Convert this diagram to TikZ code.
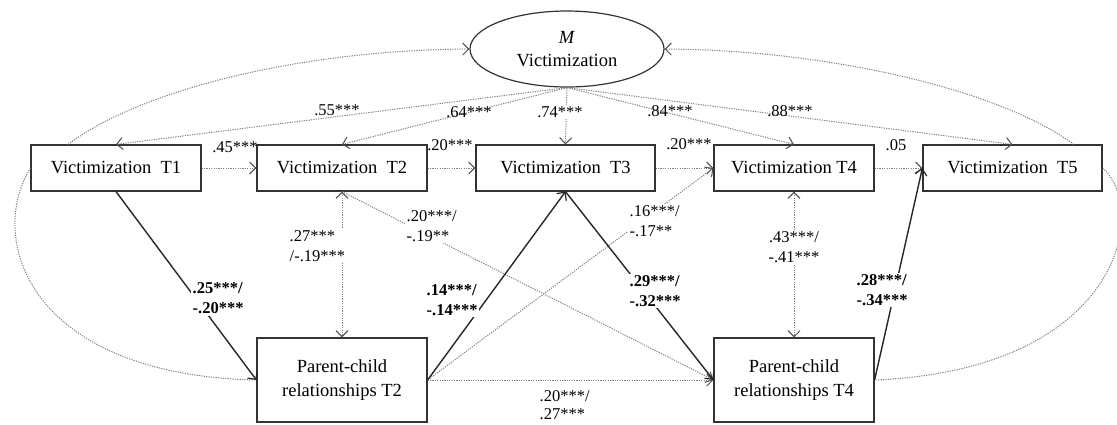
\documentclass[tikz,border=0pt]{standalone}
\usepackage{fontspec}
\setmainfont{Liberation Serif}
\usetikzlibrary{arrows.meta,calc,shapes.geometric}
\begin{document}
\begin{tikzpicture}[x=1pt,y=-1pt,
  box/.style={draw=black!80, line width=1.2pt, minimum height=46pt, inner sep=0pt, fill=white,
    font=\fontsize{18.5}{24}\selectfont},
  pcbox/.style={box, minimum height=84pt, align=center},
  lab/.style={font=\fontsize{16.5}{20}\selectfont, inner sep=1.5pt, align=left},
  blab/.style={lab, font=\fontsize{16.5}{20}\selectfont\bfseries},
  wfill/.style={fill=white},
  dotline/.style={draw=black!50, line width=1pt, dash pattern=on 1.2pt off 1.2pt},
  solidline/.style={draw=black!85, line width=1.4pt},
  tipd/.style={-{Straight Barb[length=6pt,width=12pt,line width=1pt,color=black!70]}},
  tipdd/.style={{Straight Barb[length=6pt,width=12pt,line width=1pt,color=black!70]}-{Straight Barb[length=6pt,width=12pt,line width=1pt,color=black!70]}},
  tips/.style={-{Straight Barb[length=6pt,width=12pt,line width=1.2pt,color=black!85]}}
]
\useasboundingbox (0,0) rectangle (1117,424);

% nodes
\node[draw=black!80, line width=1.2pt, ellipse, minimum width=194pt, minimum height=76pt,
      inner sep=0pt, align=center, font=\fontsize{18.5}{23}\selectfont] (M) at (567,49)
      {\textit{M}\\Victimization};
\node[box, minimum width=170pt] (V1) at (116,168) {Victimization~ T1};
\node[box, minimum width=170pt] (V2) at (342,168) {Victimization~ T2};
\node[box, minimum width=179pt] (V3) at (565.5,168) {Victimization~ T3};
\node[box, minimum width=160pt] (V4) at (794,168) {Victimization T4};
\node[box, minimum width=179pt] (V5) at (1012.5,168) {Victimization~ T5};
\node[pcbox, minimum width=170pt] (P2) at (342,380) {Parent-child\\relationships T2};
\node[pcbox, minimum width=160pt] (P4) at (794,380) {Parent-child\\relationships T4};

% loadings from M
\draw[dotline, tipd] (M.south) -- (V1.north);
\draw[dotline, tipd] (M.south) -- (V2.north);
\draw[dotline, tipd] (M.south) -- (V3.north);
\draw[dotline, tipd] (M.south) -- (V4.north);
\draw[dotline, tipd] (M.south) -- (V5.north);

% autoregressive
\draw[dotline, tipd] (V1.east) -- (V2.west);
\draw[dotline, tipd] (V2.east) -- (V3.west);
\draw[dotline, tipd] (V3.east) -- (V4.west);
\draw[dotline, tipd] (V4.east) -- (V5.west);

% concurrent correlations
\draw[dotline, tipdd] (V2.south) -- (P2.north);
\draw[dotline, tipdd] (V4.south) -- (P4.north);

% dotted cross paths
\draw[dotline, tipd] (V2.south) -- (P4.west);
\draw[dotline, tipd] (P2.east) -- (V4.west);
\draw[dotline, tipd] (P2.east) -- (P4.west);

% curves
\draw[dotline, tipd] ($(V1.north west)!0.22!(V1.north east)$) .. controls (140,90) and (300,50) .. (M.west);
\draw[dotline, tipd] ($(V5.north west)!0.84!(V5.north east)$) .. controls (1000,90) and (830,50) .. (M.east);
\draw[dotline] (V1.west) .. controls (-14,240) and (30,375) .. (P2.west);
\draw[dotline] (V5.east) .. controls (1150,210) and (1120,370) .. (P4.east);

% solid paths
\draw[solidline, tips] (V1.south) -- (P2.west);
\draw[solidline, tips] (P2.east) -- (V3.south);
\draw[solidline, tips] (V3.south) -- (P4.west);
\draw[solidline, tips] (P4.east) -- (V5.west);

% labels
\node[lab] (l55) at (337,110) {.55***};
\node[lab] (l64) at (469,112) {.64***};
\node[lab, wfill] (l74) at (560,112) {.74***};
\node[lab] (l84) at (670,111) {.84***};
\node[lab] (l88) at (790,111) {.88***};
\node[lab] (l45) at (235,147) {.45***};
\node[lab] (l20a) at (450,145) {.20***};
\node[lab] (l20b) at (689,144) {.20***};
\node[lab] (l05) at (896,145) {.05};

\node[lab, wfill, anchor=west] (l27) at (288,246) {.27***\\/-.19***};
\node[lab, wfill, anchor=west] (l2019) at (405,226) {.20***/\\-.19**};
\node[blab, wfill, anchor=west] (l25) at (191,298.5) {.25***/\\-.20***};
\node[blab, wfill, anchor=west] (l14) at (425,300) {.14***/\\-.14***};
\node[lab, wfill, anchor=west] (l16) at (628,221) {.16***/\\-.17**};
\node[blab, wfill, anchor=west] (l29) at (628,291) {.29***/\\-.32***};
\node[lab, wfill, align=center] (l43) at (794,247) {.43***/\\-.41***};
\node[blab, wfill, anchor=west] (l28) at (855,290) {.28***/\\-.34***};
\node[lab, anchor=west, font=\fontsize{16.5}{18}\selectfont] (l2027) at (538,405) {.20***/\\.27***};
\end{tikzpicture}
\end{document}
